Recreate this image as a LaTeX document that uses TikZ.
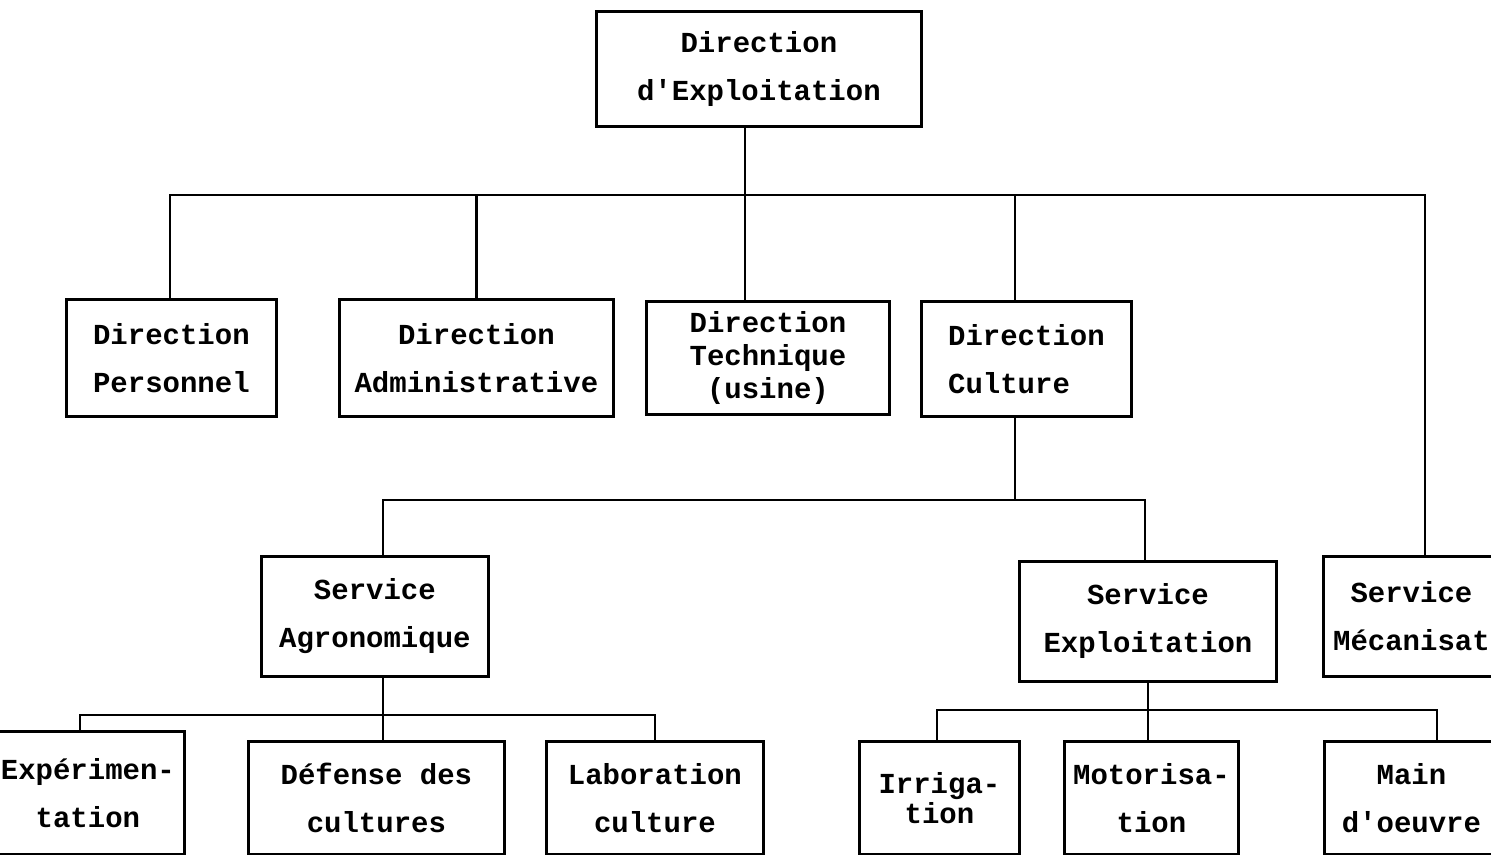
\documentclass[tikz,border=0pt]{standalone}
\usepackage{fontspec}
\setmonofont{Liberation Mono}

\tikzset{
  unit/.style={draw, line width=1.4pt, anchor=north west, inner sep=0pt, align=center,
    font=\ttfamily\bfseries\fontsize{14.5pt}{24pt}\selectfont},
  link/.style={line width=1.3pt}
}

\begin{document}
\begin{tikzpicture}[x=0.5pt, y=-0.5pt]
    \useasboundingbox (0,0) rectangle (1491,855);
    \clip (0,0) rectangle (1491,855);

    % boxes
    \node[unit, minimum width=162.5pt, minimum height=57.5pt] (direxpl) at (595,10) {Direction\\d'Exploitation};
    \node[unit, minimum width=105pt, minimum height=58.5pt] (pers) at (65,298) {Direction\\Personnel};
    \node[unit, minimum width=137pt, minimum height=58.5pt] (admin) at (338,298) {Direction\\Administrative};
    \node[unit, minimum width=121.5pt, minimum height=56.5pt,
          font=\ttfamily\bfseries\fontsize{14.5pt}{16.5pt}\selectfont] (tech) at (645,300) {Direction\\Technique\\(usine)};
    \node[unit, minimum width=105pt, minimum height=57.5pt, align=left] (cult) at (920,300) {Direction\\Culture};
    \node[unit, minimum width=113.5pt, minimum height=60pt] (agro) at (260,555) {Service\\Agronomique};
    \node[unit, minimum width=128.5pt, minimum height=60pt] (expl) at (1018,560) {Service\\Exploitation};
    \node[unit, minimum width=88pt, minimum height=60pt] (meca) at (1322,555) {Service\\Mécanisat};
    \node[unit, minimum width=96.5pt, minimum height=61.5pt] (expe) at (-10,730) {Expérimen-\\tation};
    \node[unit, minimum width=128pt, minimum height=56.5pt] (def) at (247,740) {Défense des\\cultures};
    \node[unit, minimum width=108.5pt, minimum height=56.5pt] (lab) at (545,740) {Laboration\\culture};
    \node[unit, minimum width=80pt, minimum height=56.5pt,
          font=\ttfamily\bfseries\fontsize{14.5pt}{15pt}\selectfont] (irr) at (858,740) {Irriga-\\tion};
    \node[unit, minimum width=87pt, minimum height=56.5pt] (mot) at (1063,740) {Motorisa-\\tion};
    \node[unit, minimum width=87pt, minimum height=56.5pt] (main) at (1323,740) {Main\\d'oeuvre};

    % junctions
    \coordinate (hub) at (745,195);
    \coordinate (busL) at (170,195);
    \coordinate (busR) at (1425,195);
    \coordinate (cultX) at (1015,195);
    \coordinate (cultL) at (383,500);
    \coordinate (cultR) at (1145,500);
    \coordinate (agroL) at (80,715);
    \coordinate (agroR) at (655,715);
    \coordinate (explL) at (937,710);
    \coordinate (explR) at (1437,710);

    % first level
    \draw[link] (direxpl.south -| hub) -- (tech.north -| hub);
    \draw[link] (pers.north -| busL) -- (busL) -- (busR) -- (busR |- meca.north);
    \draw[link] (admin.north) -- (admin.north |- busL);
    \draw[link] (cult.north -| cultX) -- (cultX);

    % culture
    \draw[link] (cult.south -| cultX) -- (cultL -| cultX);
    \draw[link] (agro.north -| cultL) -- (cultL) -- (cultR) -- (expl.north -| cultR);

    % services
    \draw[link] (agro.south -| cultL) -- (def.north -| cultL);
    \draw[link] (expe.north -| agroL) -- (agroL) -- (agroR) -- (lab.north -| agroR);
    \draw[link] (expl.south) -- (mot.north -| expl.south);
    \draw[link] (irr.north -| explL) -- (explL) -- (explR) -- (main.north -| explR);

\end{tikzpicture}
\end{document}
